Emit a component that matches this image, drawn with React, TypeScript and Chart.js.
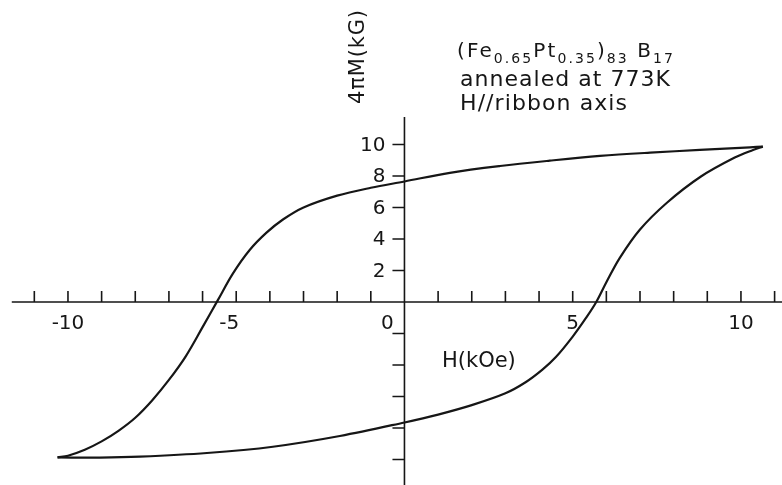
import React, { useEffect, useRef } from "react";
import { Chart, registerables } from "chart.js";

Chart.register(...registerables);

// Hysteresis loop of (Fe0.65Pt0.35)83B17 ribbon, H in kOe, 4πM in kG.
// Descending branch (listed left to right, i.e. in increasing H)
const upperH = [-10.31, -10.0, -9.5, -9.0, -8.5, -8.0, -7.5, -7.0, -6.5, -6.0, -5.55, -5.1, -4.6, -4.1, -3.6, -3.0, -2.0, -1.0, 0, 1.35, 2.84, 4.32, 5.81, 7.3, 8.78, 10.27, 10.65];
const upperM = [-9.87, -9.76, -9.38, -8.85, -8.18, -7.35, -6.25, -4.95, -3.45, -1.6, 0.1, 1.8, 3.3, 4.4, 5.25, 6.0, 6.75, 7.25, 7.65, 8.2, 8.63, 8.97, 9.27, 9.48, 9.65, 9.82, 9.86];

// Ascending branch
const lowerH = [-10.31, -9.05, -7.86, -5.87, -3.91, -1.92, 0, 1.0, 2.0, 3.0, 3.6, 4.1, 4.5, 5.0, 5.4, 5.7, 6.0, 6.4, 7.0, 7.8, 8.8, 9.8, 10.36, 10.65];
const lowerM = [-9.87, -9.88, -9.82, -9.59, -9.19, -8.51, -7.65, -7.15, -6.55, -5.8, -5.1, -4.3, -3.5, -2.2, -1.0, 0, 1.25, 2.8, 4.6, 6.3, 7.95, 9.15, 9.65, 9.86];

// Axis ticks
const hTicks = [-11, -10, -9, -8, -7, -6, -5, -4, -3, -2, -1, 1, 2, 3, 4, 5, 6, 7, 8, 9, 10, 11];
const hLabels = ["-10", "-5", "0", "5", "10"];
const mTicks = [-10, -8, -6, -4, -2, 2, 4, 6, 8, 10];
const mLabels = ["2", "4", "6", "8", "10"];

const hAxisTitle = "H(kOe)";
const mAxisTitle = "4πM(kG)";
const sampleRuns = [
  { t: "(Fe" }, { t: "0.65", sub: true }, { t: "Pt" }, { t: "0.35", sub: true },
  { t: ")" }, { t: "83", sub: true }, { t: " B" }, { t: "17", sub: true },
];
const noteLines = ["annealed at 773K", "H//ribbon axis"];

const INK = "#161616";
const FONT = "'DejaVu Sans', sans-serif";

function toPoints(xs: number[], ys: number[]) {
  return xs.map((x, i) => ({ x, y: ys[i] }));
}

function fitText(ctx: CanvasRenderingContext2D, text: string, x: number, y: number, width: number) {
  ctx.letterSpacing = "0px";
  const w = ctx.measureText(text).width;
  const n = Array.from(text).length;
  const sp = n > 1 ? (width - w) / (n - 1) : 0;
  ctx.letterSpacing = sp + "px";
  ctx.fillText(text, x, y);
  ctx.letterSpacing = "0px";
}

const axesPlugin = {
  id: "crossAxes",
  beforeDatasetsDraw(chart: any) {
    const { ctx, chartArea } = chart;
    const xs = chart.scales.x;
    const ys = chart.scales.y;
    const x0 = xs.getPixelForValue(0);
    const y0 = ys.getPixelForValue(0);
    ctx.save();
    ctx.strokeStyle = INK;
    ctx.fillStyle = INK;
    ctx.lineWidth = 1.6;

    // H axis line and upward ticks
    ctx.beginPath();
    ctx.moveTo(xs.getPixelForValue(-11.67), y0);
    ctx.lineTo(chartArea.right, y0);
    for (const v of hTicks) {
      const px = xs.getPixelForValue(v);
      ctx.moveTo(px, y0);
      ctx.lineTo(px, y0 - 11);
    }
    ctx.stroke();

    // M axis line and leftward ticks
    ctx.beginPath();
    ctx.moveTo(x0, ys.getPixelForValue(11.75));
    ctx.lineTo(x0, chartArea.bottom);
    for (const v of mTicks) {
      const py = ys.getPixelForValue(v);
      ctx.moveTo(x0, py);
      ctx.lineTo(x0 - 12, py);
    }
    ctx.stroke();

    // H tick labels
    ctx.font = `20px ${FONT}`;
    ctx.textBaseline = "top";
    ctx.textAlign = "center";
    for (const s of hLabels) {
      const v = Number(s);
      let px = xs.getPixelForValue(v);
      if (v === 0) px -= 17;
      if (v === -5) px -= 7;
      ctx.fillText(s, px, y0 + 12);
    }

    // M tick labels
    ctx.textAlign = "right";
    ctx.textBaseline = "middle";
    for (const s of mLabels) {
      const py = ys.getPixelForValue(Number(s));
      ctx.fillText(s, x0 - 19, py + 1);
    }

    // axis titles
    ctx.textAlign = "left";
    ctx.font = `21px ${FONT}`;
    ctx.fillText(hAxisTitle, 442, 362);

    ctx.save();
    ctx.translate(359, 57);
    ctx.rotate(-Math.PI / 2);
    ctx.textAlign = "left";
    ctx.textBaseline = "middle";
    ctx.font = `21px ${FONT}`;
    fitText(ctx, mAxisTitle, -47, 0, 94);
    ctx.restore();

    // sample description
    const left = 457;
    const base1 = 57;
    ctx.textBaseline = "alphabetic";
    let natural = 0;
    let count = 0;
    for (const r of sampleRuns) {
      ctx.font = r.sub ? `14px ${FONT}` : `20px ${FONT}`;
      natural += ctx.measureText(r.t).width;
      count += Array.from(r.t).length;
    }
    const sp = (216 - natural) / (count - 1);
    ctx.letterSpacing = sp + "px";
    let cx = left;
    for (const r of sampleRuns) {
      ctx.font = r.sub ? `14px ${FONT}` : `20px ${FONT}`;
      ctx.fillText(r.t, cx, r.sub ? base1 + 6 : base1);
      cx += ctx.measureText(r.t).width;
    }
    ctx.letterSpacing = "0px";

    ctx.font = `22px ${FONT}`;
    fitText(ctx, noteLines[0], 460, 86, 210);
    fitText(ctx, noteLines[1], 460, 110, 167);

    ctx.restore();
  },
};

export default function App() {
  const ref = useRef<HTMLCanvasElement | null>(null);

  useEffect(() => {
    if (!ref.current) return;
    const lineStyle = {
      showLine: true,
      borderColor: INK,
      borderWidth: 2.2,
      pointRadius: 0,
      fill: false,
      tension: 0.35,
    };
    const chart = new Chart(ref.current, {
      type: "scatter",
      data: {
        datasets: [
          { label: "descending", data: toPoints(upperH, upperM), ...lineStyle },
          { label: "ascending", data: toPoints(lowerH, lowerM), ...lineStyle },
        ],
      },
      options: {
        responsive: false,
        animation: false,
        devicePixelRatio: 1,
        layout: { padding: 0 },
        plugins: { legend: { display: false }, tooltip: { enabled: false } },
        scales: {
          x: { type: "linear", min: -12.02, max: 11.22, display: false },
          y: { type: "linear", min: -11.62, max: 19.17, display: false },
        },
      },
      plugins: [axesPlugin],
    });
    return () => chart.destroy();
  }, []);

  return (
    <div style={{ position: "fixed", left: 0, top: 0, width: 782, height: 485, background: "#fff" }}>
      <canvas ref={ref} width={782} height={485} style={{ display: "block" }} />
    </div>
  );
}
